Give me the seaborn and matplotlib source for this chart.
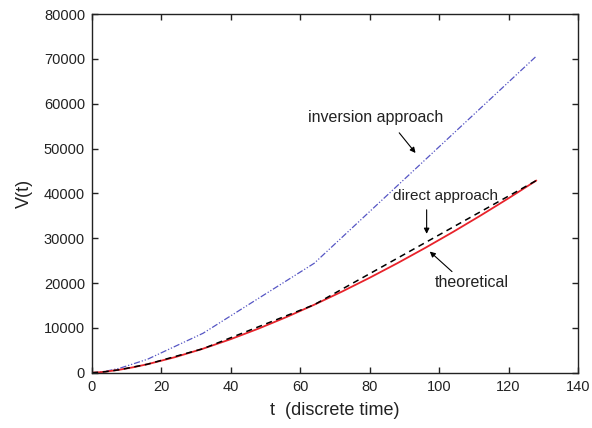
import numpy as np
import pandas as pd
import matplotlib
matplotlib.use("Agg")
import matplotlib.pyplot as plt
import seaborn as sns

# Data
t_theory = [0, 2, 4, 8, 12, 16, 24, 32, 40, 48, 56, 64, 72, 80, 88, 96, 104, 112, 120, 128]
v_theory = [0, 84, 237, 670, 1230, 1894, 3480, 5358, 7488, 9843, 12404, 15155,
            18084, 21180, 24436, 27842, 31393, 35084, 38910, 42864]

t_direct = [0, 2, 4, 8, 16, 32, 64, 128]
v_direct = [0, 84, 237, 670, 1894, 5358, 15155, 42864]

t_inv = [0, 2, 4, 8, 16, 32, 64, 128]
v_inv = [0, 100, 330, 1000, 3000, 8800, 24400, 70600]

x_ticks = [0, 20, 40, 60, 80, 100, 120, 140]
y_ticks = [0, 10000, 20000, 30000, 40000, 50000, 60000, 70000, 80000]

sns.set_style("ticks")
plt.rcParams['font.family'] = ['Liberation Sans', 'DejaVu Sans']

fig, ax = plt.subplots(figsize=(5.92, 4.28), dpi=100)
fig.subplots_adjust(left=92/592, right=578/592, bottom=1-372.7/428, top=1-14/428)

df_t = pd.DataFrame({"t": t_theory, "V": v_theory})
df_d = pd.DataFrame({"t": t_direct, "V": v_direct})
df_i = pd.DataFrame({"t": t_inv, "V": v_inv})

sns.lineplot(data=df_i, x="t", y="V", ax=ax, color="#5656c4", lw=0.9,
             linestyle=(0, (5, 1.5, 1, 1.5, 1, 1.5)))
sns.lineplot(data=df_t, x="t", y="V", ax=ax, color="#e8232b", lw=1.3)
sns.lineplot(data=df_d, x="t", y="V", ax=ax, color="black", lw=1.1,
             linestyle=(0, (4, 3)))

ax.set_xlim(0, 140)
ax.set_ylim(0, 80000)
ax.set_xticks(x_ticks)
ax.set_yticks(y_ticks)
ax.set_xticklabels([str(v) for v in x_ticks])
ax.set_yticklabels([str(v) for v in y_ticks])

for s in ax.spines.values():
    s.set_visible(True)
    s.set_linewidth(1.0)
    s.set_color("#222222")

ax.tick_params(direction="in", length=4, width=1, top=True, right=True,
               labelsize=10.5, colors="#222222", labelcolor="#222222", pad=5)

ax.set_xlabel("t  (discrete time)", fontsize=13, labelpad=6, color="#222222")
ax.set_ylabel("V(t)", fontsize=13, labelpad=8, color="#222222")

ap = dict(arrowstyle='-|>', color='black', lw=0.8, mutation_scale=8, shrinkA=0, shrinkB=0)
ax.text(81.7, 56900, "inversion approach", fontsize=11.5, ha="center", va="center", color="#222222")
ax.annotate("", xy=(93.2, 49000), xytext=(88.5, 53500), arrowprops=ap)
ax.text(101.7, 39460, "direct approach", fontsize=11, ha="center", va="center", color="#222222")
ax.annotate("", xy=(96.4, 30970), xytext=(96.4, 36330), arrowprops=ap)
ax.text(109.5, 20030, "theoretical", fontsize=11.5, ha="center", va="center", color="#222222")
ax.annotate("", xy=(97.3, 27020), xytext=(103.7, 22550), arrowprops=ap)

fig.savefig("out.png", dpi=100)
